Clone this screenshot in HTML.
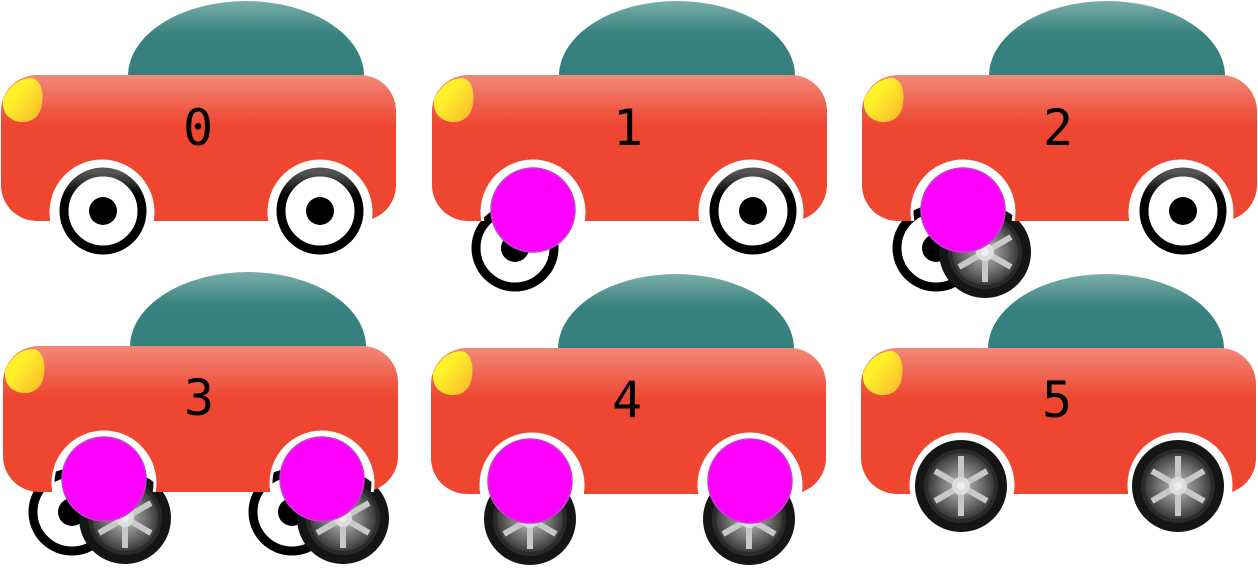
<!DOCTYPE html>
<html><head><meta charset="utf-8"><style>html,body{margin:0;padding:0;background:#fff;width:1258px;height:583px;overflow:hidden}</style></head><body>
<svg width="1258" height="583" viewBox="0 0 1258 583" xmlns="http://www.w3.org/2000/svg">
<defs>
<linearGradient id="roof" x1="0" y1="0" x2="0" y2="1"><stop offset="0" stop-color="#7aaeaa"/><stop offset="0.45" stop-color="#37817e"/><stop offset="1" stop-color="#35807d"/></linearGradient>
<linearGradient id="body" x1="0" y1="0" x2="0" y2="1"><stop offset="0" stop-color="#f28878"/><stop offset="0.35" stop-color="#ee4630"/><stop offset="1" stop-color="#ee462f"/></linearGradient>
<linearGradient id="lamp" x1="0.3" y1="0.4" x2="1" y2="1"><stop offset="0" stop-color="#fff22a"/><stop offset="1" stop-color="#f7b52a"/></linearGradient>
<linearGradient id="ring" x1="0" y1="0" x2="0" y2="1"><stop offset="0" stop-color="#555"/><stop offset="0.3" stop-color="#000"/></linearGradient>
<radialGradient id="rim"><stop offset="0" stop-color="#ddd"/><stop offset="0.3" stop-color="#999"/><stop offset="0.7" stop-color="#666"/><stop offset="1" stop-color="#3a3a3a"/></radialGradient>
<mask id="cut" maskUnits="userSpaceOnUse" x="0" y="0" width="400" height="260">
<rect x="0" y="0" width="400" height="260" fill="#fff"/>
<circle cx="102" cy="212" r="51" fill="#000"/>
<circle cx="320" cy="212" r="51" fill="#000"/>
</mask>
<g id="alloy">
<circle r="46" fill="#151515"/><circle r="37" fill="#2a2a2a"/><circle r="33" fill="url(#rim)"/>
<g stroke="#c8c8c8" stroke-width="6"><line x1="0" y1="0" x2="0" y2="-30"/><line x1="0" y1="0" x2="26" y2="-15"/><line x1="0" y1="0" x2="26" y2="15"/><line x1="0" y1="0" x2="0" y2="30"/><line x1="0" y1="0" x2="-26" y2="15"/><line x1="0" y1="0" x2="-26" y2="-15"/></g>
<circle r="9" fill="#ddd"/><circle r="4" fill="#eee"/>
</g>
<g id="oldw"><circle r="39" fill="#fff" stroke="#000" stroke-width="9"/><circle r="14" fill="#000"/></g>
<g id="normw"><circle r="39" fill="#fff" stroke="url(#ring)" stroke-width="9"/><circle r="14" fill="#000"/></g>
<g id="car">
<path d="M128 76 A118 75 0 0 1 364 76 Z" fill="url(#roof)"/>
<rect x="1" y="75" width="395" height="146" rx="36" fill="url(#body)" mask="url(#cut)"/>
<path d="M51.8 221 A51 51 0 1 1 152.2 221" fill="none" stroke="#fff" stroke-width="3"/>
<path d="M269.8 221 A51 51 0 1 1 370.2 221" fill="none" stroke="#fff" stroke-width="3"/>
<path d="M3 100 C8 86 20 78 32 78 C40 80 44 90 42 104 C40 118 30 123 20 122 C8 120 2 112 3 100 Z" fill="url(#lamp)"/>
</g>
</defs>
<g font-family="'DejaVu Sans Mono','Liberation Mono',monospace" font-size="50" text-anchor="middle" fill="#000">
<g transform="translate(0,0)"><use href="#car"/><use href="#normw" x="103" y="211"/><use href="#normw" x="320" y="211"/><text x="198" y="145">0</text></g>
<g transform="translate(431,0)"><use href="#oldw" x="84" y="248"/><use href="#car"/><use href="#normw" x="322" y="211"/><circle cx="102" cy="210" r="42" fill="#f0f" stroke="#c040d0" stroke-width="1.5"/><text x="197" y="145">1</text></g>
<g transform="translate(861,0)"><use href="#oldw" x="75" y="248"/><use href="#alloy" x="124" y="252"/><use href="#car"/><use href="#normw" x="322" y="211"/><circle cx="102" cy="210" r="42" fill="#f0f" stroke="#c040d0" stroke-width="1.5"/><text x="197" y="145">2</text></g>
<g transform="translate(2,271)"><use href="#oldw" x="70" y="241"/><use href="#alloy" x="123" y="247"/><use href="#oldw" x="290" y="241"/><use href="#alloy" x="341" y="247"/><use href="#car"/><circle cx="102" cy="208" r="42" fill="#f0f" stroke="#c040d0" stroke-width="1.5"/><circle cx="320" cy="208" r="42" fill="#f0f" stroke="#c040d0" stroke-width="1.5"/><text x="197" y="144">3</text></g>
<g transform="translate(430,273)"><use href="#alloy" x="100" y="246"/><use href="#alloy" x="319" y="246"/><use href="#car"/><circle cx="100" cy="208" r="42" fill="#f0f" stroke="#c040d0" stroke-width="1.5"/><circle cx="320" cy="208" r="42" fill="#f0f" stroke="#c040d0" stroke-width="1.5"/><text x="197" y="144">4</text></g>
<g transform="translate(860,273)"><use href="#alloy" x="101" y="213"/><use href="#alloy" x="318" y="213"/><use href="#car"/><text x="197" y="144">5</text></g>
</g>
</svg>
</body></html>
